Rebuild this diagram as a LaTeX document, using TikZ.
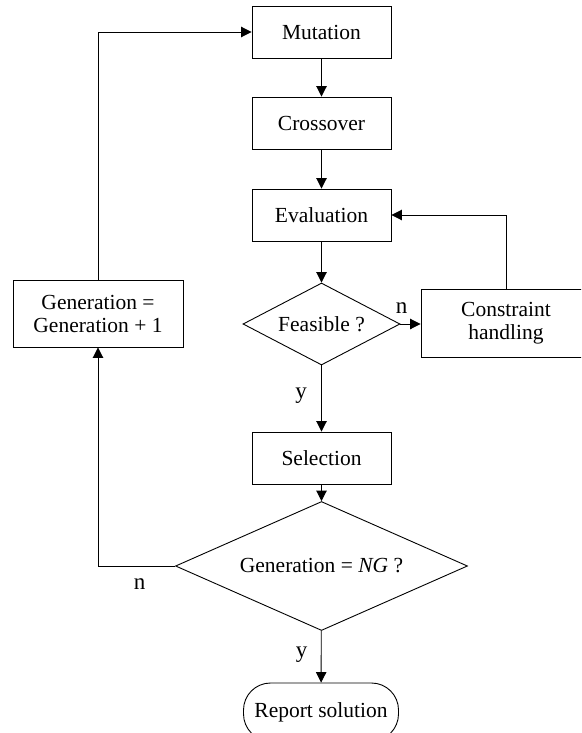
\documentclass[tikz,border=0pt]{standalone}
\usepackage{fontspec}
\setmainfont{Liberation Serif}
\newfontfamily\tnrfont{Liberation Serif}
\usetikzlibrary{shapes.geometric,arrows.meta}
\begin{document}
\begin{tikzpicture}[x=1pt,y=-1pt,
  every node/.style={font=\tnrfont\fontsize{21.5}{23}\selectfont},
  proc/.style={draw, line width=0.9pt, minimum width=139pt, minimum height=52pt, inner sep=0pt, align=center},
  dec/.style={draw, diamond, line width=0.9pt, inner sep=0pt},
  lbl/.style={font=\tnrfont\fontsize{23}{23}\selectfont, inner sep=0pt},
  flow/.style={line width=0.9pt, -{Triangle[length=10.5pt,width=10.5pt]}}]
\useasboundingbox (0,0) rectangle (581,733);
\clip (0,0) rectangle (581,733);
\node[proc] (mut) at (321.5,32) {Mutation};
\node[proc] (cro) at (321.5,123) {Crossover};
\node[proc] (eva) at (321.5,215) {Evaluation};
\node[dec, minimum width=157pt, minimum height=82pt, shape aspect=1.9] (fea) at (321.5,324) {Feasible ?};
\node[proc, minimum width=170pt, minimum height=68pt] (con) at (506,323) {Constraint\\handling};
\node[proc, minimum width=170pt, minimum height=67pt] (gen) at (98,313.5) {Generation =\\Generation + 1};
\node[proc] (sel) at (321.5,458) {Selection};
\node[dec, minimum width=292pt, minimum height=129pt, shape aspect=2.26] (ng) at (321.5,566) {Generation = \textit{NG} ?};
\node[draw, line width=0.9pt, rounded corners=27pt, minimum width=155pt, minimum height=58pt, inner sep=0pt] (rep) at (321,712) {Report solution};
\draw[flow] (mut) -- (cro);
\draw[flow] (cro) -- (eva);
\draw[flow] (eva) -- (fea);
\draw[flow] (fea.east) -- (fea.east -| con.west);
\draw[flow] (con.north) |- (eva.east);
\draw[flow] (fea) -- (sel);
\draw[flow] (sel) -- (ng);
\draw[flow] (ng) -- (rep);
\draw[flow] (ng.west) -| (gen.south);
\draw[flow] (gen.north) |- (mut.west);
\node[lbl] (n1) at (401.5,308) {n};
\node[lbl] (y1) at (301,395.5) {y};
\node[lbl] (n2) at (139.5,584) {n};
\node[lbl] (y2) at (301.5,655) {y};
\end{tikzpicture}
\end{document}
